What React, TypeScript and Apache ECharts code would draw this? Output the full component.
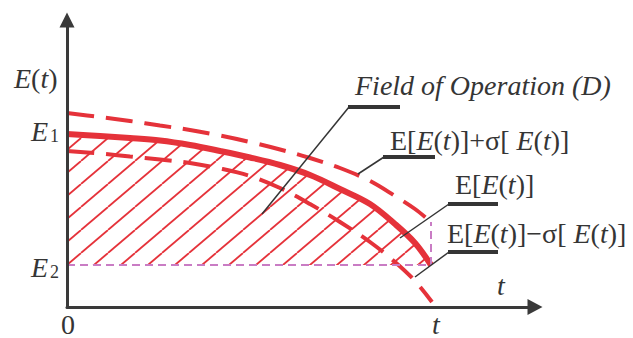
import React, { useEffect, useRef } from 'react';
import * as echarts from 'echarts';

// Schematic data (units: x along time axis, y along E(t) axis)
const meanX = [0, 33, 63, 93, 123, 153, 183, 213, 243, 273, 303, 328, 348, 364];
const meanY = [173, 171, 169, 166.5, 162, 156, 149.5, 142, 132, 118, 103, 83, 64, 42];
const upperX = [0, 33, 63, 93, 123, 153, 183, 213, 243, 273, 303, 328, 348, 364];
const upperY = [194, 190, 186, 181.5, 177, 171.5, 165, 157.5, 149, 139, 126, 111, 98, 85];
const lowerX = [0, 33, 63, 93, 123, 153, 183, 213, 243, 273, 303, 328, 348, 365];
const lowerY = [156, 153.5, 150.5, 147.5, 144, 138.5, 131, 119, 103, 85, 65, 45, 26, 5];
const E2_LEVEL = 42;
const T_END = 364;
const UPPER_END = 85;
const X_MAX = 468;
const Y_MAX = 287;

const RED = '#e5323a';
const PINK = '#c97cc4';
const INK = '#353535';
const FONT = 'Liberation Serif';

function zip(xs: number[], ys: number[]) {
  return xs.map((x, i) => [x, ys[i]]);
}

function makeHatch() {
  const w = 27;
  const h = 23;
  const c = document.createElement('canvas');
  c.width = w;
  c.height = h;
  const ctx = c.getContext('2d')!;
  ctx.strokeStyle = RED;
  ctx.lineWidth = 1.8;
  for (const k of [-1, 0, 1]) {
    ctx.beginPath();
    ctx.moveTo(k * w, h);
    ctx.lineTo(k * w + w, 0);
    ctx.stroke();
  }
  return { image: c, repeat: 'repeat', imageWidth: w, imageHeight: h } as any;
}

const r = { fontFamily: FONT, fontSize: 28, fill: INK };
const it = { fontFamily: FONT, fontSize: 28, fill: INK, fontStyle: 'italic' };

function rich(text: string, x: number, y: number, align = 'left') {
  return {
    type: 'text',
    x,
    y,
    z: 20,
    silent: true,
    style: {
      text,
      align,
      verticalAlign: 'middle',
      fontFamily: FONT,
      fontSize: 28,
      fill: INK,
      rich: { r, i: it },
    },
  };
}

function plain(text: string, x: number, y: number, size: number, italic: boolean, align = 'left') {
  return {
    type: 'text',
    x,
    y,
    z: 20,
    silent: true,
    style: {
      text,
      align,
      verticalAlign: 'middle',
      fontFamily: FONT,
      fontSize: size,
      fontStyle: italic ? 'italic' : 'normal',
      fill: INK,
    },
  };
}

function seg(x1: number, y1: number, x2: number, y2: number, w: number) {
  return {
    type: 'line',
    z: 20,
    silent: true,
    shape: { x1, y1, x2, y2 },
    style: { stroke: INK, lineWidth: w },
  };
}

export default function App() {
  const ref = useRef<HTMLDivElement>(null);
  useEffect(() => {
    if (!ref.current) return;
    const chart = echarts.init(ref.current, undefined, { renderer: 'svg' });
    const axisCommon = {
      type: 'value',
      min: 0,
      axisTick: { show: false },
      axisLabel: { show: false },
      splitLine: { show: false },
      z: 5,
    };
    chart.setOption({
      animation: false,
      textStyle: { fontFamily: FONT },
      grid: { left: 67, right: 98, top: 20, bottom: 31 },
      xAxis: {
        ...axisCommon,
        max: X_MAX,
        axisLine: {
          show: true,
          symbol: ['none', 'triangle'],
          symbolSize: [16, 15],
          lineStyle: { color: '#3a3a3a', width: 3 },
        },
      },
      yAxis: {
        ...axisCommon,
        max: Y_MAX,
        axisLine: {
          show: true,
          symbol: ['none', 'triangle'],
          symbolSize: [15, 15],
          lineStyle: { color: '#3a3a3a', width: 3 },
        },
      },
      series: [
        {
          type: 'line',
          data: zip(meanX, meanY),
          smooth: 0.35,
          showSymbol: false,
          lineStyle: { color: RED, width: 6 },
          areaStyle: { color: makeHatch(), origin: E2_LEVEL, opacity: 1 },
          z: 3,
          markLine: {
            silent: true,
            symbol: 'none',
            label: { show: false },
            lineStyle: { color: PINK, type: [8, 5], width: 2 },
            data: [
              [{ coord: [0, E2_LEVEL] }, { coord: [T_END, E2_LEVEL] }],
              [{ coord: [T_END, E2_LEVEL] }, { coord: [T_END, UPPER_END] }],
            ],
          },
        },
        {
          type: 'line',
          data: zip(upperX, upperY),
          smooth: 0.35,
          showSymbol: false,
          lineStyle: { color: RED, width: 4, type: [27, 12] },
          z: 4,
        },
        {
          type: 'line',
          data: zip(lowerX, lowerY),
          smooth: 0.35,
          showSymbol: false,
          lineStyle: { color: RED, width: 4, type: [27, 12] },
          z: 4,
        },
      ],
      graphic: [
        rich('{i|E}{r|(}{i|t}{r|)}', 14, 78),
        plain('E', 31, 131, 28, true),
        plain('1', 50, 136, 18, false),
        plain('E', 31, 267, 28, true),
        plain('2', 50, 272, 18, false),
        plain('0', 68, 324, 28, false, 'center'),
        plain('t', 436, 324, 28, true, 'center'),
        plain('t', 501, 285, 28, true, 'center'),
        plain('Field of Operation (D)', 355, 85, 28, true),
        rich('{r|E[}{i|E}{r|(}{i|t}{r|)]+σ[ }{i|E}{r|(}{i|t}{r|)]}', 390, 140),
        rich('{r|E[}{i|E}{r|(}{i|t}{r|)]}', 455, 184),
        rich('{r|E[}{i|E}{r|(}{i|t}{r|)]−σ[ }{i|E}{r|(}{i|t}{r|)]}', 447, 233),
        seg(348, 107, 400, 107, 4),
        seg(349, 107, 262, 214, 1.5),
        seg(383, 157, 435, 157, 4),
        seg(384, 157, 358, 174, 1.5),
        seg(448, 204, 498, 204, 4),
        seg(449, 204, 400, 238, 1.5),
        seg(448, 252, 498, 252, 4),
        seg(449, 252, 415, 277, 1.5),
      ],
    });
    return () => chart.dispose();
  }, []);
  return (
    <div
      ref={ref}
      style={{ position: 'absolute', left: 0, top: 0, width: 633, height: 338, background: '#fff' }}
    />
  );
}
